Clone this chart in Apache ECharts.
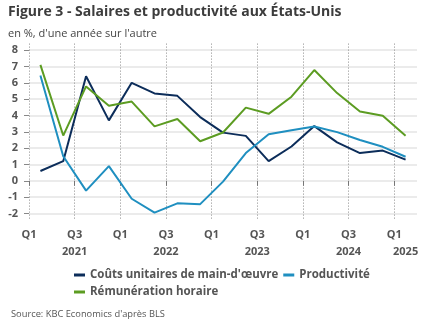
<!DOCTYPE html>
<html>
<head>
<meta charset="utf-8">
<script src="https://cdn.jsdelivr.net/npm/echarts@6/dist/echarts.min.js"></script>
<style>
  html, body { margin: 0; padding: 0; background: #ffffff; }
  #chart { width: 432px; height: 334px; }
</style>
</head>
<body>
<div id="chart"></div>
<script>
// Quarterly observations, Q1 2021 to Q1 2025 (year-on-year, %)
const quarters = [
  '2021 Q1', '2021 Q2', '2021 Q3', '2021 Q4',
  '2022 Q1', '2022 Q2', '2022 Q3', '2022 Q4',
  '2023 Q1', '2023 Q2', '2023 Q3', '2023 Q4',
  '2024 Q1', '2024 Q2', '2024 Q3', '2024 Q4',
  '2025 Q1'
];
const unitLabourCosts = [0.6, 1.2, 6.4, 3.7, 6.0, 5.35, 5.2, 3.9, 2.95, 2.75, 1.2, 2.1, 3.35, 2.35, 1.7, 1.85, 1.3];
const productivity    = [6.45, 1.5, -0.6, 0.9, -1.1, -1.95, -1.38, -1.43, -0.05, 1.7, 2.85, 3.1, 3.33, 2.98, 2.5, 2.08, 1.47];
const hourlyPay       = [7.1, 2.77, 5.78, 4.6, 4.85, 3.33, 3.78, 2.42, 2.96, 4.48, 4.1, 5.15, 6.78, 5.37, 4.24, 3.98, 2.76];

const seriesNames = ["Coûts unitaires de main-d'œuvre", 'Productivité', 'Rémunération horaire'];
const yTickValues = [-2, -1, 0, 1, 2, 3, 4, 5, 6, 7, 8];
const years = ['2021', '2022', '2023', '2024', '2025'];

const FONT = "'Open Sans', sans-serif";
const LABEL = '#555555';

// quarter index -> position at the centre of its band
const toPoints = arr => arr.map((v, i) => [i + 0.5, v]);

// ticks at every Q1 / Q3 boundary
const quarterTicks = quarters.map((q, i) => i).filter(i => i % 2 === 0);
// year labels centred on the span of each year's quarters
const yearCentres = years.map((y, k) => {
  const start = k * 4;
  const end = Math.min(start + 4, quarters.length);
  return (start + end) / 2;
});

const legendBase = {
  left: 69, orient: 'horizontal',
  icon: 'rect', itemWidth: 11, itemHeight: 3, itemGap: 5,
  textStyle: { fontFamily: FONT, fontSize: 11.5, fontWeight: 'bold', color: LABEL }
};

const chart = echarts.init(document.getElementById('chart'), null, { renderer: 'canvas' });

chart.setOption({
  animation: false,
  color: ['#0c2d5a', '#1f8fc0', '#5c9c22'],
  title: [
    {
      text: 'Figure 3 - Salaires et productivité aux États-Unis',
      left: 3, top: 0.5, padding: 5,
      textStyle: { fontFamily: FONT, fontSize: 14, fontWeight: 'bold', color: '#3c3c3c' }
    },
    {
      text: "en %, d'une année sur l'autre",
      left: 3, top: 23.5, padding: 5,
      textStyle: { fontFamily: FONT, fontSize: 11, fontWeight: 'normal', color: '#444444' }
    },
    {
      text: "Source: KBC Economics d'après BLS",
      left: 6, top: 305, padding: 5,
      textStyle: { fontFamily: FONT, fontSize: 9.3, fontWeight: 'normal', color: '#555555' }
    }
  ],
  // two rows of legend entries
  legend: [
    Object.assign({}, legendBase, { top: 264, data: seriesNames.slice(0, 2) }),
    Object.assign({}, legendBase, { top: 281, data: seriesNames.slice(2) })
  ],
  grid: { left: 29, right: 15, top: 43.6, bottom: 114, containLabel: false },
  xAxis: [
    {
      type: 'value', min: 0, max: quarters.length, position: 'bottom',
      axisLine: { show: false },
      axisTick: { show: true, customValues: quarterTicks, length: 5, lineStyle: { color: '#777777' } },
      axisLabel: {
        customValues: quarterTicks, margin: 9,
        formatter: v => quarters[Math.round(v)].slice(5),
        fontFamily: FONT, fontSize: 11, fontWeight: 'bold', color: LABEL
      },
      splitLine: { show: true, lineStyle: { type: [1, 2], color: '#8a8a8a', width: 1 } }
    },
    {
      type: 'value', min: 0, max: quarters.length, position: 'bottom', offset: 0,
      axisLine: { show: false },
      axisTick: { show: false },
      splitLine: { show: false },
      axisLabel: {
        customValues: yearCentres, margin: 26,
        formatter: v => years[yearCentres.indexOf(v)] || '',
        fontFamily: FONT, fontSize: 11, fontWeight: 'bold', color: LABEL
      }
    }
  ],
  yAxis: {
    type: 'value', min: -2.4, max: 8.4,
    axisLine: { show: false },
    axisTick: { show: true, customValues: yTickValues, length: 5, lineStyle: { color: '#888888' } },
    axisLabel: {
      customValues: yTickValues, margin: 11,
      fontFamily: FONT, fontSize: 11, fontWeight: 'bold', color: LABEL
    },
    splitLine: { show: true, lineStyle: { color: '#e4e4e4', width: 1.5 } }
  },
  series: [
    { name: seriesNames[0], type: 'line', data: toPoints(unitLabourCosts), showSymbol: false, lineStyle: { width: 2 } },
    { name: seriesNames[1], type: 'line', data: toPoints(productivity), showSymbol: false, lineStyle: { width: 2 } },
    { name: seriesNames[2], type: 'line', data: toPoints(hourlyPay), showSymbol: false, lineStyle: { width: 2 } }
  ]
});
</script>
</body>
</html>
